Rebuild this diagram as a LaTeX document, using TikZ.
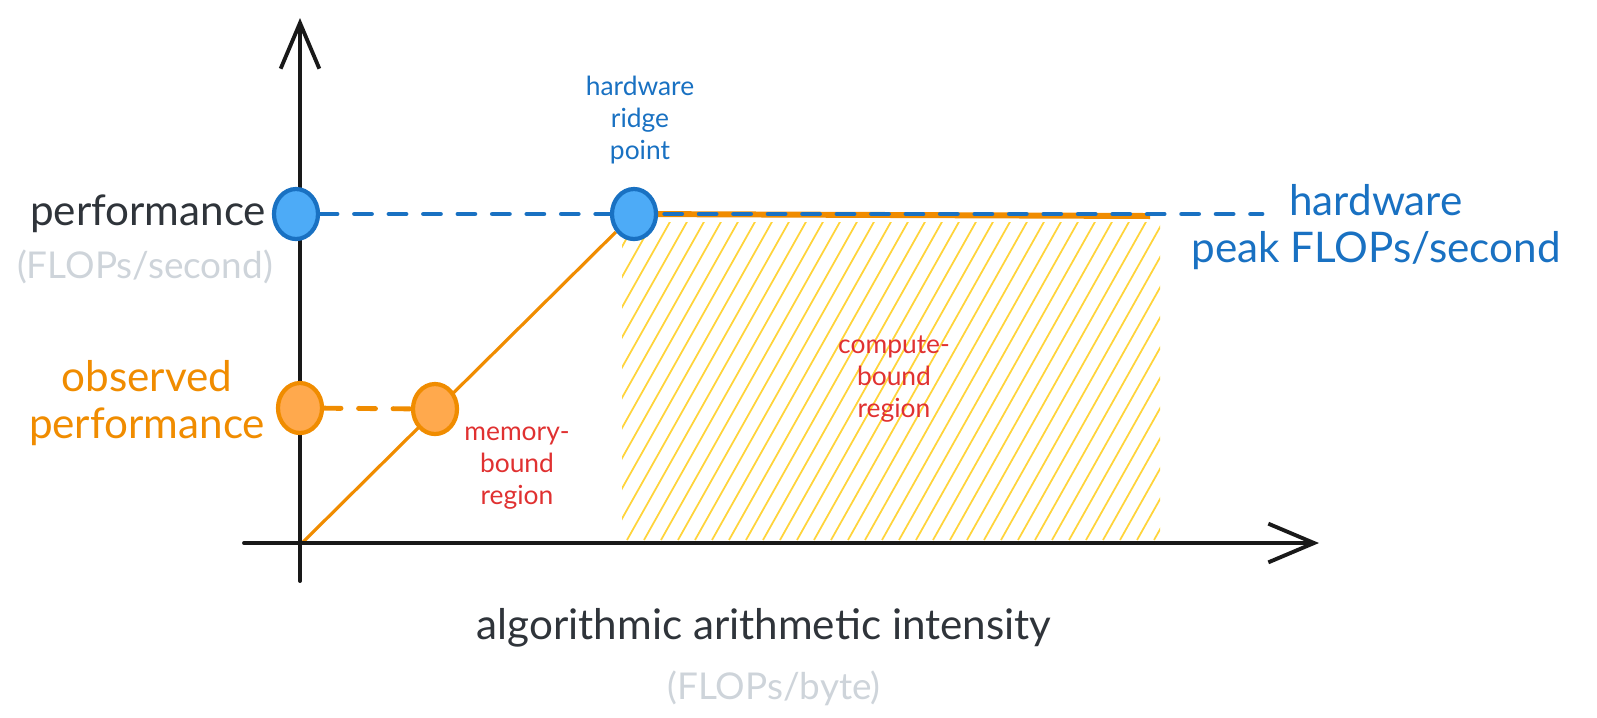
\documentclass[tikz,border=0pt]{standalone}
\usepackage{fontspec}
\setmainfont{Lato}
\usetikzlibrary{shapes.geometric, arrows.meta, positioning, backgrounds}
\definecolor{inkdark}{HTML}{2F343A}
\definecolor{inkgray}{HTML}{CED4DA}
\definecolor{blueline}{HTML}{1971C2}
\definecolor{bluefill}{HTML}{4DABF7}
\definecolor{orangeline}{HTML}{F08C00}
\definecolor{orangefill}{HTML}{FFA94D}
\definecolor{redtext}{HTML}{E03131}
\definecolor{hatchyellow}{HTML}{FFD43B}
\tikzstyle{axis} = [line width=1.1pt, draw=black!90, line cap=round, -{Straight Barb[length=13pt, width=11pt, line width=1.1pt]}]
\tikzstyle{peak} = [ellipse, draw=blueline, fill=bluefill, line width=1.2pt, minimum width=0.44cm, minimum height=0.5cm, inner sep=0pt]
\tikzstyle{observed} = [ellipse, draw=orangeline, fill=orangefill, line width=1.2pt, minimum width=0.44cm, minimum height=0.5cm, inner sep=0pt]
\tikzstyle{peakdash} = [draw=blueline, line width=1.4pt, line cap=round, dash pattern=on 4.8pt off 5pt]
\tikzstyle{obsdash} = [draw=orangeline, line width=1.4pt, line cap=round, dash pattern=on 4.8pt off 5pt]
\tikzstyle{slope} = [draw=orangeline, line width=0.9pt]
\tikzstyle{roof} = [draw=orangeline, line width=1.7pt]
\tikzstyle{hatch} = [draw=hatchyellow, line width=0.5pt]
\tikzstyle{bigtext} = [inner sep=0pt, font=\fontsize{12}{13.4}\selectfont]
\tikzstyle{unittext} = [inner sep=0pt, text=inkgray, font=\fontsize{10.5}{12}\selectfont]
\tikzstyle{smalltext} = [inner sep=0pt, font=\fontsize{7.5}{9.1}\selectfont]

\begin{document}
\begin{tikzpicture}[x=0.01cm, y=-0.01cm]
        \useasboundingbox (0,0) rectangle (1597,717);

        % Hatched compute-bound area
        \begin{scope}
            \clip (622,222) rectangle (1160,540);
            \foreach \x in {440,457,...,1180}
                \draw[hatch] (\x,540) -- ++(180,-320);
        \end{scope}

        % Axes
        \coordinate (origin) at (302,543);
        \coordinate (ybase) at (300,581);
        \coordinate (ytip) at (300,18);
        \coordinate (xbase) at (244,543);
        \coordinate (xtip) at (1319,543);
        \draw[axis] (ybase) -- (ytip);
        \draw[axis] (xbase) -- (xtip);

        % Points
        \node (perf) [peak] at (296,214) {};
        \node (ridge) [peak] at (634,214) {};
        \node (obsaxis) [observed] at (300,408) {};
        \node (obsline) [observed] at (435,409) {};
        \coordinate (roofend) at (1150,216);
        \coordinate (peakend) at (1262,214);

        % Connectors
        \begin{scope}[on background layer]
            \draw[roof] (ridge) -- (roofend);
            \draw[peakdash] (perf) -- (peakend);
            \draw[slope] (origin) -- (ridge);
            \draw[obsdash] (obsaxis) -- (obsline);
        \end{scope}

        % Labels
        \node (perflabel) [bigtext, text=inkdark, left=0.05cm of perf] {performance};
        \node (perfunit) [unittext] at (145,267) {(FLOPs/second)};
        \node (obslabel) [bigtext, text=orangeline, align=center] at (147,403) {observed\\performance};
        \node (ridgelabel) [smalltext, text=blueline, align=center] at (640,120) {hardware\\ridge\\point};
        \node (peaklabel) [bigtext, text=blueline, align=center] at (1376,227) {hardware\\peak FLOPs/second};
        \node (memlabel) [smalltext, text=redtext, align=center] at (517,468) {memory-\\bound\\region};
        \node (complabel) [smalltext, text=redtext, align=center] at (894,379) {compute-\\bound\\region};
        \node (xlabel) [bigtext, text=inkdark] at (764,628) {algorithmic arithmetic intensity};
        \node (xunit) [unittext] at (774,688) {(FLOPs/byte)};
\end{tikzpicture}
\end{document}
